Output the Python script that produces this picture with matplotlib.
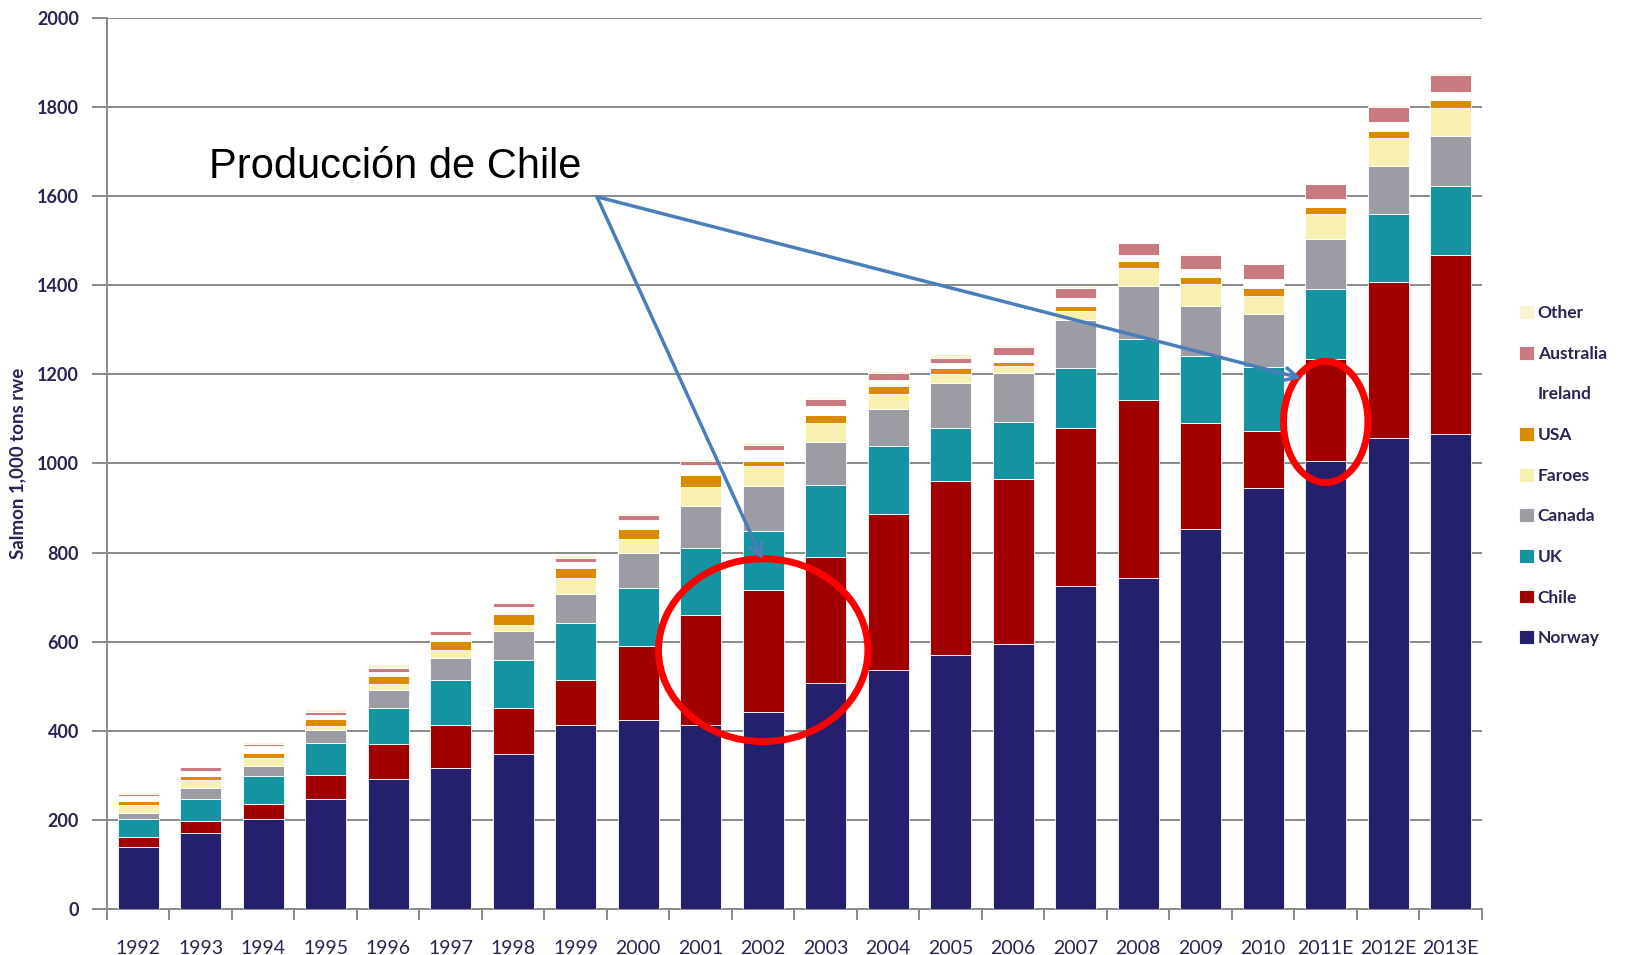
import matplotlib
matplotlib.use("Agg")
import matplotlib.pyplot as plt
import numpy as np
from matplotlib.patches import Ellipse

years = ["1992", "1993", "1994", "1995", "1996", "1997", "1998", "1999", "2000", "2001", "2002",
         "2003", "2004", "2005", "2006", "2007", "2008", "2009", "2010", "2011E", "2012E", "2013E"]

norway = [140, 170, 203, 248, 293, 316, 347, 414, 425, 413, 443, 508, 537, 570, 595, 726, 742, 853, 945, 1005, 1058, 1066]
chile = [22, 27, 33, 52, 77, 96, 104, 100, 165, 247, 272, 282, 349, 390, 371, 354, 401, 238, 128, 228, 349, 401]
uk = [40, 49, 62, 73, 81, 102, 109, 128, 130, 151, 133, 162, 153, 119, 127, 133, 137, 149, 143, 159, 152, 155]
canada = [13, 26, 24, 28, 40, 49, 63, 65, 78, 94, 102, 96, 84, 102, 109, 108, 118, 112, 118, 111, 108, 113]
faroes = [19, 17, 18, 10, 14, 18, 14, 35, 32, 43, 43, 42, 33, 19, 16, 21, 41, 50, 41, 56, 63, 62]
usa = [8, 9, 10, 15, 18, 21, 26, 23, 22, 25, 12, 19, 18, 14, 10, 11, 15, 15, 18, 16, 16, 18]
ireland = [11, 13, 15, 10, 10, 12, 14, 14, 21, 24, 26, 19, 14, 12, 15, 17, 13, 18, 20, 19, 19, 19]
australia = [6, 7, 6, 6, 9, 9, 9, 9, 11, 8, 11, 16, 14, 11, 18, 23, 27, 32, 34, 32, 35, 38]
other = [3, 3, 3, 8, 7, 4, 4, 7, 4, 4, 5, 5, 5, 8, 4, 5, 3, 4, 3, 4, 4, 3]

series_names = ["Norway", "Chile", "UK", "Canada", "Faroes", "USA", "Ireland", "Australia", "Other"]
series_vals = [norway, chile, uk, canada, faroes, usa, ireland, australia, other]
colors = ["#25206B", "#A00000", "#1493A0", "#9C9CA4", "#F8F0B0", "#DC8A00", "#FFFFFF", "#C97A80", "#FBF3D0"]

yticks = [0, 200, 400, 600, 800, 1000, 1200, 1400, 1600, 1800, 2000]
annot_text = "Producción de Chile"

txtcol = "#2A2455"

fig = plt.figure(figsize=(16.25, 9.55), dpi=100)
ax = fig.add_axes([0.0658, 0.048, 0.8462, 0.9336])

x = np.arange(len(years))
bottom = np.zeros(len(years))
handles = []
for name, vals, c in zip(series_names, series_vals, colors):
    v = np.array(vals, dtype=float)
    b = ax.bar(x, v, bottom=bottom, width=0.66, color=c, edgecolor="white", linewidth=0.6,
               label=name, zorder=3)
    handles.append(b)
    bottom += v

ax.set_xlim(-0.5, len(years) - 0.5)
ax.set_ylim(0, 2000)
ax.set_yticks(yticks)
ax.set_yticklabels([str(t) for t in yticks], fontsize=13, fontweight="bold", color=txtcol, family="Lato")
ax.yaxis.grid(True, color="#8A8A8A", linewidth=1.4, zorder=0)
ax.tick_params(axis="y", length=11, width=1.4, color="#8A8A8A", pad=9)

ax.set_xticks(x)
ax.set_xticklabels(years, fontsize=14, color=txtcol, family="Lato")
ax.set_xticks(np.arange(-0.5, len(years), 1.0), minor=True)
ax.tick_params(axis="x", which="major", length=0, pad=22)
ax.tick_params(axis="x", which="minor", length=8, width=1.4, color="#8A8A8A", direction="out")

for s in ["top", "right"]:
    ax.spines[s].set_visible(False)
for s in ["left", "bottom"]:
    ax.spines[s].set_color("#8A8A8A")
    ax.spines[s].set_linewidth(1.4)

ax.set_ylabel("Salmon 1,000 tons rwe", fontsize=13.5, fontweight="bold", color=txtcol,
              family="Lato", labelpad=8)

# legend (reverse order)
leg = fig.legend(handles[::-1], series_names[::-1], loc="upper left",
                 bbox_to_anchor=(0.925, 0.697), frameon=False,
                 prop={"family": "Lato", "size": 12.5, "weight": "bold"}, labelcolor=txtcol,
                 handlelength=0.85, handleheight=0.85, handletextpad=0.25, labelspacing=1.42)

# annotation
ax.text(1.13, 1665, annot_text, fontsize=30, family="Liberation Sans", color="black",
        va="center", ha="left", zorder=6)
start = (7.34, 1598)
for end in [(9.99, 784), (18.61, 1191)]:
    ax.annotate("", xy=end, xytext=start,
                arrowprops=dict(arrowstyle="->,head_length=0.9,head_width=0.45", color="#4A7EBB",
                                lw=2.5, shrinkA=0, shrinkB=0), zorder=6)

ax.add_patch(Ellipse((10.0, 581), 3.35, 410, fill=False, edgecolor="#FF0000", linewidth=5, zorder=5))
ax.add_patch(Ellipse((19.0, 1093), 1.35, 272, fill=False, edgecolor="#FF0000", linewidth=5, zorder=5))

fig.savefig("out.png", dpi=100)
